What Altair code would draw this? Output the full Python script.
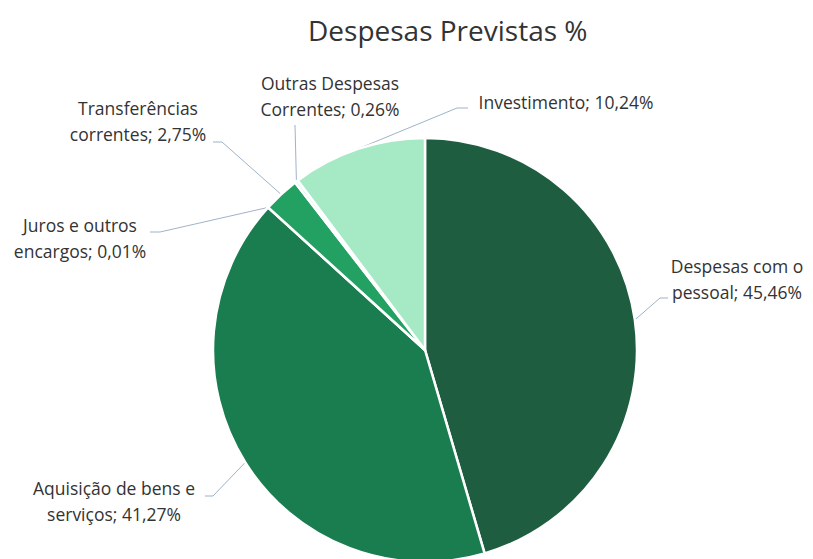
import math
import altair as alt
import pandas as pd

# ---- data ----
categories = ["Despesas com o pessoal", "Aquisição de bens e serviços", "Juros e outros encargos",
              "Transferências correntes", "Outras Despesas Correntes", "Investimento"]
values = [45.46, 41.27, 0.01, 2.75, 0.26, 10.24]
label_texts = ["Despesas com o\npessoal; 45,46%", "Aquisição de bens e\nserviços; 41,27%",
               "Juros e outros\nencargos; 0,01%", "Transferências\ncorrentes; 2,75%",
               "Outras Despesas\nCorrentes; 0,26%", "Investimento; 10,24%"]
colors = ["#1f5d41", "#1a7d50", "#1f7a4d", "#23a163", "#d8f6e6", "#a6e9c5"]

# ---- layout (chart pixel coords) ----
CX, CY, R = 417, 342, 212
label_pos = [(729, 260), (106, 482), (72, 219), (130, 102), (322, 77), (558, 96)]
elbows = [(652, 290), (205, 488), (152, 224), (214, 134), (287, 117), (449, 100)]
ends = [(660, 290), (197, 488), (142, 224), (205, 134), (287, 117), (460, 100)]

df = pd.DataFrame({"category": categories, "value": values, "order": range(len(values))})

lab = pd.DataFrame({
    "category": categories,
    "text": label_texts,
    "lx": [p[0] for p in label_pos],
    "ly": [p[1] for p in label_pos],
})

total = sum(values)
rows = []
cum = 0.0
for i, (c, v) in enumerate(zip(categories, values)):
    mid = (cum + v / 2) / total * 2 * math.pi
    cum += v
    ex, ey = CX + R * math.sin(mid), CY - R * math.cos(mid)
    pts = [(ex, ey), elbows[i], ends[i]]
    for k, (px, py) in enumerate(pts):
        rows.append({"category": c, "k": k, "px": px, "py": py})
lead = pd.DataFrame(rows)

color_scale = alt.Scale(domain=categories, range=colors)

pie = alt.Chart(df).mark_arc(stroke="white", strokeWidth=2.5, radius=R).encode(
    theta=alt.Theta("value:Q", stack=True),
    order=alt.Order("order:Q"),
    color=alt.Color("category:N", scale=color_scale, legend=None),
    x=alt.value(CX),
    y=alt.value(CY),
)

leaders = alt.Chart(lead).mark_line(color="#9fb3c8", strokeWidth=1).encode(
    x=alt.X("px:Q", scale=None),
    y=alt.Y("py:Q", scale=None),
    detail="category:N",
    order="k:Q",
)

labels = alt.Chart(lab).mark_text(
    font="Open Sans", fontSize=17.5, color="#333333", align="center", baseline="middle",
    lineBreak="\n", lineHeight=26,
).encode(
    x=alt.X("lx:Q", scale=None),
    y=alt.Y("ly:Q", scale=None),
    text="text:N",
)

chart = alt.layer(leaders, pie, labels).properties(
    width=797, height=551,
    padding=0,
    autosize=alt.AutoSizeParams(type="none"),
    title=alt.TitleParams("Despesas Previstas %", font="Open Sans", fontSize=28, fontWeight="normal",
                          color="#333333", anchor="start", dx=300, dy=-11, offset=-50),
).configure_view(stroke=None)

chart.save("out.html", embed_options={"renderer": "svg", "actions": False})
